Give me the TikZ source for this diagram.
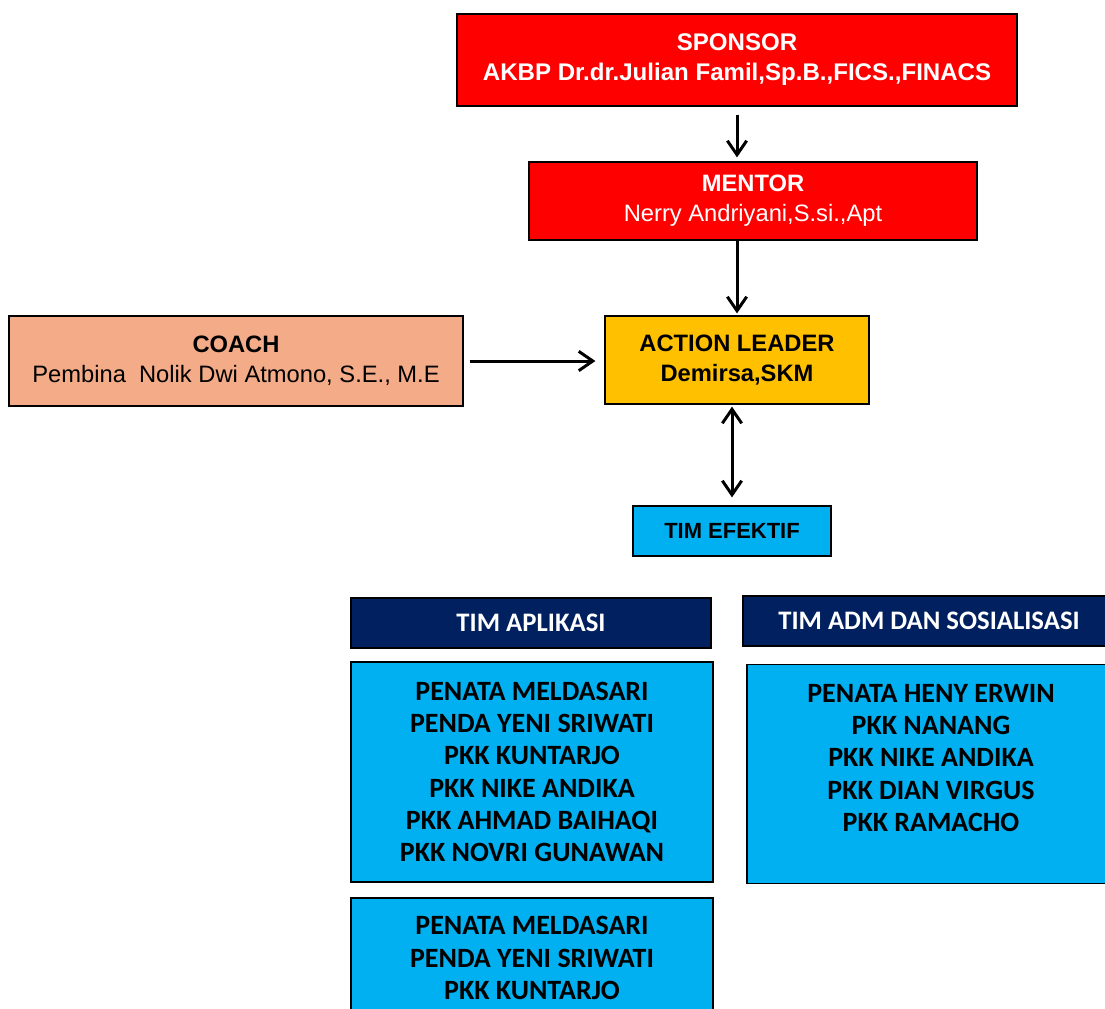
\documentclass[tikz,border=0pt]{standalone}
\usepackage{fontspec}
\setmainfont{Liberation Sans}
\newfontfamily\calibri{Carlito}
\usetikzlibrary{arrows.meta}
\definecolor{sponsorred}{HTML}{FF0000}
\definecolor{coachorange}{HTML}{F3AB88}
\definecolor{leaderyellow}{HTML}{FFC000}
\definecolor{timblue}{HTML}{00B0F0}
\definecolor{headnavy}{HTML}{002060}
\begin{document}
\begin{tikzpicture}[x=0.02cm,y=-0.02cm,
	box_node/.style={draw,line width=0.7pt,align=center,inner sep=0pt,font=\fontsize{13.5}{17}\selectfont},
	red_node/.style={box_node,fill=sponsorred,text=white},
	head_node/.style={box_node,fill=headnavy,text=white,minimum height=1cm,font=\calibri\bfseries\fontsize{15.2}{18}\selectfont},
	list_node/.style={box_node,fill=timblue,font=\calibri\bfseries\fontsize{15.9}{18.4}\selectfont},
	link/.style={line width=1.7pt,-{Straight Barb[length=8pt,width=11pt,line width=1.7pt]}},
	two_link/.style={line width=1.7pt,{Straight Barb[length=8pt,width=11pt,line width=1.7pt]}-{Straight Barb[length=8pt,width=11pt,line width=1.7pt]}}]
		
		\useasboundingbox (0,0) rectangle (1105,1008);
		
		\node[red_node,font=\bfseries\fontsize{13.7}{17}\selectfont,minimum width=11.2cm,minimum height=1.84cm] (sponsor) at (737,60) {SPONSOR\\AKBP Dr.dr.Julian Famil,Sp.B.,FICS.,FINACS};
		\node[red_node,minimum width=8.96cm,minimum height=1.56cm] (mentor) at (753,201) {\textbf{MENTOR}\\Nerry Andriyani,S.si.,Apt};
		\node[box_node,fill=coachorange,minimum width=9.08cm,minimum height=1.8cm] (coach) at (236,361) {\textbf{COACH}\\Pembina\ \ Nolik Dwi Atmono, S.E., M.E};
		\node[box_node,fill=leaderyellow,font=\bfseries\fontsize{13.5}{17}\selectfont,minimum width=5.28cm,minimum height=1.76cm] (leader) at (737,360) {ACTION LEADER\\Demirsa,SKM};
		\node[box_node,fill=timblue,font=\bfseries\fontsize{12.5}{14}\selectfont,minimum width=3.96cm,minimum height=1cm] (efektif) at (732,531) {TIM EFEKTIF};
		
		\node[head_node,minimum width=7.2cm] (aplikasi) at (531,623) {TIM APLIKASI};
		\node[head_node,minimum width=7.44cm] (adm) at (929,621) {TIM ADM DAN SOSIALISASI};
		
		\node[list_node,minimum width=7.24cm,minimum height=4.4cm] (aplikasi_list) at (532,772) {PENATA MELDASARI\\PENDA YENI SRIWATI\\PKK KUNTARJO\\PKK NIKE ANDIKA\\PKK AHMAD BAIHAQI\\PKK NOVRI GUNAWAN};
		\node[list_node,minimum width=7.36cm,minimum height=4.38cm] (adm_list) at (931,774) {PENATA HENY ERWIN\\PKK NANANG\\PKK NIKE ANDIKA\\PKK DIAN VIRGUS\\PKK RAMACHO\\\mbox{}};
		\node[list_node,minimum width=7.24cm,minimum height=2.4cm] (aplikasi_list2) at (532,958) {PENATA MELDASARI\\PENDA YENI SRIWATI\\PKK KUNTARJO};
		
		\draw[link,shorten <=0.16cm,shorten >=0.08cm] (sponsor.south) -- (sponsor.south |- mentor.north);
		\draw[link,shorten >=0.04cm] (leader.north |- mentor.south) -- (leader.north);
		\draw[link,shorten <=0.12cm,shorten >=0.18cm] (coach.east) -- (coach.east -| leader.west);
		\draw[two_link,shorten <=0.04cm,shorten >=0.16cm] (efektif.north |- leader.south) -- (efektif.north);
		\end{tikzpicture}
\end{document}
